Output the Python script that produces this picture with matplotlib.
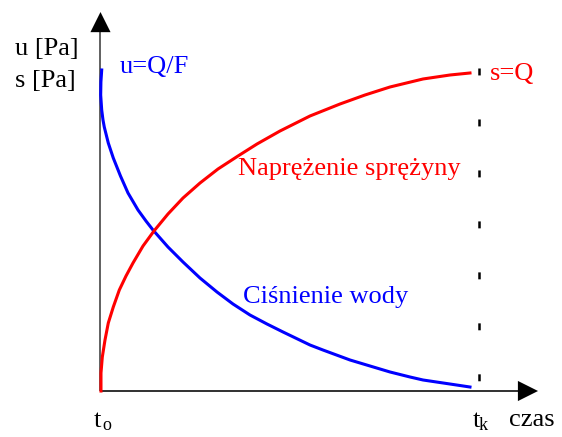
import matplotlib
matplotlib.use("Agg")
import matplotlib.pyplot as plt

# time axis: t_o = 0, t_k = 100 ; value axis: 0 .. 100 (= Q)
t_blue = [0.32, 0.11, 0.05, 0.32, 0.66, 1.00, 2.06, 3.38, 5.28, 7.27, 9.91, 12.02,
          13.87, 17.83, 21.80, 26.29, 30.78, 35.01, 39.50, 43.99, 48.22, 55.35,
          58.78, 65.92, 71.20, 76.49, 81.77, 85.21, 92.34, 97.62]
u_blue = [100.63, 96.87, 92.79, 88.09, 84.95, 82.76, 77.74, 73.04, 67.40, 62.07,
          56.74, 53.29, 50.47, 45.14, 40.44, 35.42, 31.03, 27.27, 23.82, 21.00,
          18.50, 14.42, 12.85, 9.72, 7.84, 5.96, 4.39, 3.45, 2.19, 1.25]

t_red = [0.13, 0.13, 0.48, 1.19, 2.06, 3.38, 4.97, 6.74, 8.59, 11.23, 14.13, 17.83,
         21.80, 26.29, 31.04, 36.33, 41.35, 47.42, 55.35, 63.28, 69.88, 76.49,
         85.21, 92.34, 97.62]
s_red = [0.0, 5.64, 10.66, 15.99, 21.32, 26.33, 31.66, 36.05, 40.13, 45.45, 50.16,
         55.49, 60.50, 65.20, 69.59, 73.67, 77.43, 81.50, 86.21, 89.97, 92.79,
         95.30, 97.81, 99.06, 99.69]

t_k = 100
dash_top, dash_bottom = 101.3, 2.8

plt.rcParams['font.family'] = ['Liberation Serif', 'DejaVu Serif']
plt.rcParams['lines.scale_dashes'] = False

fig = plt.figure(figsize=(5.62, 4.37), dpi=100)
ax = fig.add_axes([0, 0, 1, 1])
ax.set_xlim(-26.55, 121.93)
ax.set_ylim(-14.42, 122.57)
ax.axis('off')

# axes with arrows
ax.plot([0, 0], [0, 113], color='#606060', lw=1.4, solid_capstyle='butt')
ax.plot([0, 110.5], [0, 0], color='#303030', lw=1.4, solid_capstyle='butt')
arrow = dict(arrowstyle='-|>,head_length=1.0,head_width=0.5', mutation_scale=14.5,
             color='black', lw=0, shrinkA=0, shrinkB=0)
ax.annotate('', xy=(0, 118.8), xytext=(0, 112.9), arrowprops=arrow)
ax.annotate('', xy=(115.6, 0), xytext=(110.3, 0), arrowprops=arrow)

# dashed line at t_k
ax.plot([t_k, t_k], [dash_top, dash_bottom], color='black', lw=1.8,
        linestyle=(0, (5, 31.7)), dash_capstyle='butt')

ax.plot(t_blue, u_blue, color='#0000ff', lw=2.2, solid_joinstyle='round')
ax.plot(t_red, s_red, color='#ff0000', lw=2.2, solid_joinstyle='round')

fs = 19
ax.text(-22.6, 105.3, 'u [Pa]', fontsize=fs, color='black', va='baseline')
ax.text(-22.6, 95.3, 's [Pa]', fontsize=fs, color='black', va='baseline')
ax.text(5.15, 99.7, 'u=Q/F', fontsize=fs, color='#0000ff', va='baseline')
ax.text(102.9, 97.5, 's=Q', fontsize=fs, color='#ff0000', va='baseline')
ax.text(36.2, 67.7, 'Naprężenie sprężyny', fontsize=fs, color='#ff0000', va='baseline')
ax.text(37.6, 27.6, 'Ciśnienie wody', fontsize=fs, color='#0000ff', va='baseline')

ax.text(-1.9, -11.3, 't', fontsize=fs, va='baseline')
ax.text(0.4, -12.2, 'o', fontsize=13, va='baseline')
ax.text(98.3, -11.3, 't', fontsize=fs, va='baseline')
ax.text(100.0, -12.2, 'k', fontsize=13, va='baseline')
ax.text(107.9, -11.0, 'czas', fontsize=fs, va='baseline')

fig.savefig('out.png', dpi=100, facecolor='white')
